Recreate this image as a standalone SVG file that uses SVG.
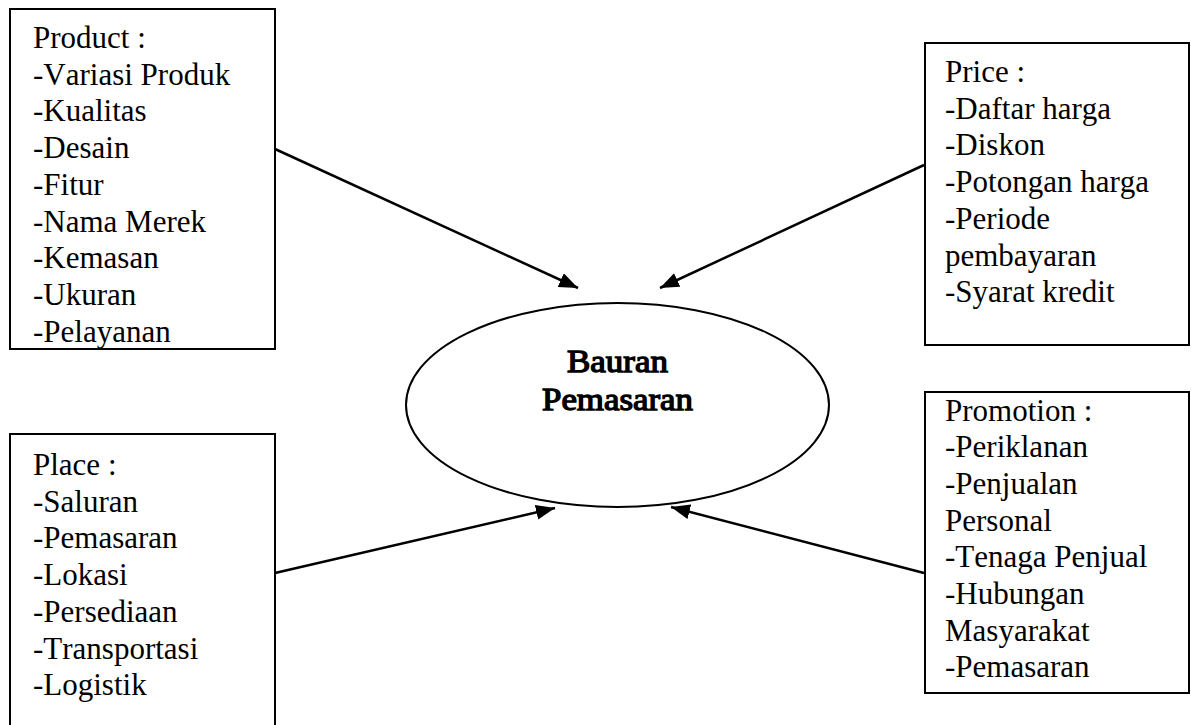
<svg xmlns="http://www.w3.org/2000/svg" width="1191" height="725" viewBox="0 0 1191 725">
<defs>
<style>
.box{fill:#fff;stroke:#000;stroke-width:2}
.t{font-size:31px;fill:#000;font-kerning:none}
.b{text-anchor:middle;stroke:#000;stroke-width:1.3}
.c{stroke:#000;stroke-width:2.5;fill:none;marker-end:url(#ah)}
</style>
<marker id="ah" markerUnits="userSpaceOnUse" markerWidth="20" markerHeight="16" refX="19" refY="7.5" orient="auto">
<path d="M0,0 L19,7.5 L0,15 z" fill="#000"/>
</marker>
</defs>
<rect width="1191" height="725" fill="#fff"/>
<g id="product" font-family="Liberation Serif, serif">
<rect class="box" x="10" y="9" width="265" height="340"/>
<text class="t" x="33" y="48">Product :</text>
<text class="t" x="33" y="84.7">-Variasi Produk</text>
<text class="t" x="33" y="121.4">-Kualitas</text>
<text class="t" x="33" y="158.1">-Desain</text>
<text class="t" x="33" y="194.8">-Fitur</text>
<text class="t" x="33" y="231.5">-Nama Merek</text>
<text class="t" x="33" y="268.2">-Kemasan</text>
<text class="t" x="33" y="304.9">-Ukuran</text>
<text class="t" x="33" y="341.6">-Pelayanan</text>
</g>
<g id="price" font-family="Liberation Serif, serif">
<rect class="box" x="925" y="43" width="264" height="302"/>
<text class="t" x="945" y="82">Price :</text>
<text class="t" x="945" y="118.7">-Daftar harga</text>
<text class="t" x="945" y="155.4">-Diskon</text>
<text class="t" x="945" y="192.1">-Potongan harga</text>
<text class="t" x="945" y="228.8">-Periode</text>
<text class="t" x="945" y="265.5">pembayaran</text>
<text class="t" x="945" y="302.2">-Syarat kredit</text>
</g>
<g id="place" font-family="Liberation Serif, serif">
<rect class="box" x="10" y="434" width="265" height="310"/>
<text class="t" x="33" y="475">Place :</text>
<text class="t" x="33" y="511.7">-Saluran</text>
<text class="t" x="33" y="548.4">-Pemasaran</text>
<text class="t" x="33" y="585.1">-Lokasi</text>
<text class="t" x="33" y="621.8">-Persediaan</text>
<text class="t" x="33" y="658.5">-Transportasi</text>
<text class="t" x="33" y="695.2">-Logistik</text>
</g>
<g id="promotion" font-family="Liberation Serif, serif">
<rect class="box" x="925" y="392" width="264" height="301"/>
<text class="t" x="945" y="420.5">Promotion :</text>
<text class="t" x="945" y="457.2">-Periklanan</text>
<text class="t" x="945" y="493.9">-Penjualan</text>
<text class="t" x="945" y="530.6">Personal</text>
<text class="t" x="945" y="567.3">-Tenaga Penjual</text>
<text class="t" x="945" y="604">-Hubungan</text>
<text class="t" x="945" y="640.7">Masyarakat</text>
<text class="t" x="945" y="677.4">-Pemasaran</text>
</g>
<g id="bauran" font-family="Liberation Serif, serif">
<ellipse class="box" cx="617.5" cy="405" rx="211.5" ry="102"/>
<text class="t b" x="617.5" y="372" textLength="101" lengthAdjust="spacingAndGlyphs">Bauran</text>
<text class="t b" x="617.5" y="410" textLength="151" lengthAdjust="spacingAndGlyphs">Pemasaran</text>
</g>
<g id="connectors">
<line class="c" x1="275" y1="149" x2="578" y2="288"/>
<line class="c" x1="924" y1="165" x2="660" y2="288"/>
<line class="c" x1="275" y1="573" x2="555" y2="508"/>
<line class="c" x1="924" y1="573" x2="671" y2="507"/>
</g>
</svg>
